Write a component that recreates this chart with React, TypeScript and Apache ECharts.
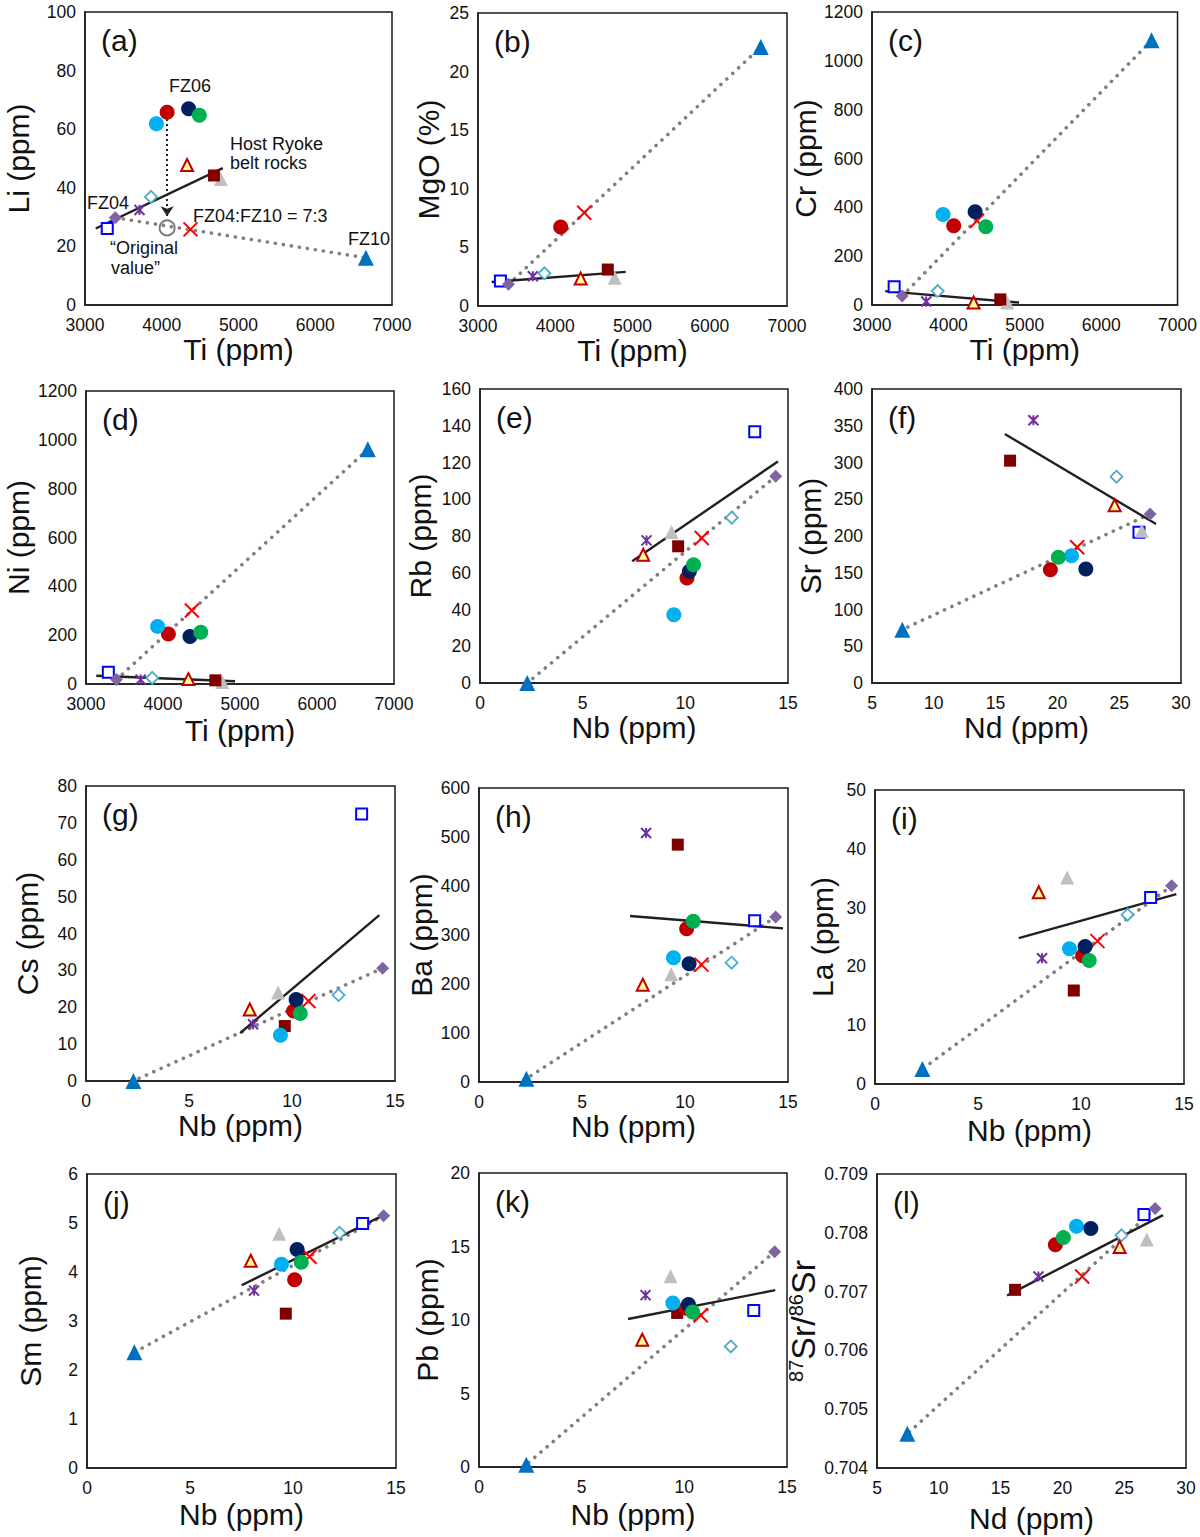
import React, { useEffect, useRef } from 'react';
import * as echarts from 'echarts';

const FONT = '"Liberation Sans", Arial, Helvetica, sans-serif';

// Sample order:
// 0 FZ04, 1 FZ10, 2 FZ04:FZ10 = 7:3 mixture,
// 3-6 FZ06 (red, light blue, navy, green circles),
// 7-12 host Ryoke belt rocks (open square, asterisk, open diamond, red/yellow triangle, dark red square, gray triangle)
const sampleNames = ['FZ04', 'FZ10', 'Mix 7:3', 'FZ06-r', 'FZ06-lb', 'FZ06-n', 'FZ06-g', 'Host-sq', 'Host-ast', 'Host-dia', 'Host-tri', 'Host-dsq', 'Host-gtri'];

const Ti = [3395, 6660, 4375, 4070, 3930, 4350, 4490, 3290, 3710, 3860, 4330, 4680, 4770];
const Nb = [14.4, 2.3, 10.8, 10.08, 9.44, 10.2, 10.4, 13.38, 8.11, 12.26, 7.95, 9.65, 9.33];
const Nd = [27.5, 7.45, 21.6, 19.43, 21.14, 22.3, 20.08, 26.6, 18.06, 24.78, 24.63, 16.17, 26.83];

const Li = [29.8, 16.1, 25.8, 65.8, 61.9, 67.0, 64.8, 26.1, 32.4, 36.9, 47.8, 44.2, 43.0];
const MgO = [1.85, 22.1, 7.95, 6.75, null, null, null, 2.14, 2.54, 2.79, 2.34, 3.11, 2.42];
const Cr = [37, 1084, 345, 325, 371, 382, 320, 75, 14, 57, 10, 23, 10];
const Ni = [18, 961, 301, 205, 236, 195, 212, 48, 18, 25, 20, 15, 8];
const Rb = [112.5, 0, 78.9, 57.1, 37.2, 60.8, 64.4, 136.8, 77.6, 90, 69.8, 74.4, 82.2];
const Sr = [229.9, 72.6, 184.6, 154.2, 173.2, 155.1, 171, 205, 357.4, 280.7, 241.7, 302.5, 207.3];
const Cs = [30.6, 0, 21.7, 19.0, 12.4, 22.1, 18.3, 72.4, 15.4, 23.3, 19.4, 14.9, 24.0];
const Ba = [336.7, 6.8, 239.5, 312.9, 253.7, 241.5, 327.9, 329.3, 508, 243.5, 198.6, 484.4, 219.7];
const La = [33.7, 2.55, 24.3, 21.8, 23.0, 23.4, 21.0, 31.7, 21.4, 28.8, 32.6, 15.9, 35.1];
const Sm = [5.15, 2.36, 4.31, 3.84, 4.16, 4.46, 4.20, 4.99, 3.62, 4.80, 4.23, 3.15, 4.78];
const Pb = [14.65, 0.16, 10.32, 10.8, 11.16, 11.05, 10.55, 10.64, 11.69, 8.2, 8.66, 10.48, 12.98];
const SrIso = [0.708413, 0.704581, 0.707257, 0.707798, 0.708112, 0.708072, 0.707918, 0.708311, 0.707257, 0.707958, 0.707759, 0.70703, 0.707884];

// Host-rock regression line end points [x, y]
const hostLi = [[3140, 26.1], [4795, 46.7]];
const hostMgO = [[3177, 2.05], [4912, 2.91]];
const hostCr = [[3173, 57], [4924, 10]];
const hostNi = [[3134, 34], [4935, 11]];
const hostRb = [[7.41, 66.2], [14.51, 120.6]];
const hostSr = [[15.75, 338.8], [27.98, 216.3]];
const hostCs = [[7.48, 13.0], [14.24, 45.0]];
const hostBa = [[7.33, 338.8], [14.76, 313.6]];
const hostLa = [[6.98, 24.8], [14.63, 32.3]];
const hostSm = [[7.51, 3.73], [14.4, 5.16]];
const hostPb = [[7.26, 10.07], [14.43, 12.03]];
const hostSrIso = [[15.52, 0.706933], [28.14, 0.7083]];

// "Original value" of FZ06 Li and arrow
const originalLi = [4070, 26.3];
const arrowLi = [[4070, 63.5], [4070, 30.3]];

const panels = [
  { id: 'a', x: Ti, y: Li, xName: 'Ti (ppm)', yName: 'Li (ppm)', xMin: 3000, xMax: 7000, xInt: 1000, yMin: 0, yMax: 100, yInt: 20, host: hostLi },
  { id: 'b', x: Ti, y: MgO, xName: 'Ti (ppm)', yName: 'MgO (%)', xMin: 3000, xMax: 7000, xInt: 1000, yMin: 0, yMax: 25, yInt: 5, host: hostMgO },
  { id: 'c', x: Ti, y: Cr, xName: 'Ti (ppm)', yName: 'Cr (ppm)', xMin: 3000, xMax: 7000, xInt: 1000, yMin: 0, yMax: 1200, yInt: 200, host: hostCr },
  { id: 'd', x: Ti, y: Ni, xName: 'Ti (ppm)', yName: 'Ni (ppm)', xMin: 3000, xMax: 7000, xInt: 1000, yMin: 0, yMax: 1200, yInt: 200, host: hostNi },
  { id: 'e', x: Nb, y: Rb, xName: 'Nb (ppm)', yName: 'Rb (ppm)', xMin: 0, xMax: 15, xInt: 5, yMin: 0, yMax: 160, yInt: 20, host: hostRb },
  { id: 'f', x: Nd, y: Sr, xName: 'Nd (ppm)', yName: 'Sr (ppm)', xMin: 5, xMax: 30, xInt: 5, yMin: 0, yMax: 400, yInt: 50, host: hostSr },
  { id: 'g', x: Nb, y: Cs, xName: 'Nb (ppm)', yName: 'Cs (ppm)', xMin: 0, xMax: 15, xInt: 5, yMin: 0, yMax: 80, yInt: 10, host: hostCs },
  { id: 'h', x: Nb, y: Ba, xName: 'Nb (ppm)', yName: 'Ba (ppm)', xMin: 0, xMax: 15, xInt: 5, yMin: 0, yMax: 600, yInt: 100, host: hostBa },
  { id: 'i', x: Nb, y: La, xName: 'Nb (ppm)', yName: 'La (ppm)', xMin: 0, xMax: 15, xInt: 5, yMin: 0, yMax: 50, yInt: 10, host: hostLa },
  { id: 'j', x: Nb, y: Sm, xName: 'Nb (ppm)', yName: 'Sm (ppm)', xMin: 0, xMax: 15, xInt: 5, yMin: 0, yMax: 6, yInt: 1, host: hostSm },
  { id: 'k', x: Nb, y: Pb, xName: 'Nb (ppm)', yName: 'Pb (ppm)', xMin: 0, xMax: 15, xInt: 5, yMin: 0, yMax: 20, yInt: 5, host: hostPb },
  { id: 'l', x: Nd, y: SrIso, xName: 'Nd (ppm)', yName: '{s|87}{n|Sr/}{s|86}{n|Sr}', xMin: 5, xMax: 30, xInt: 5, yMin: 0.704, yMax: 0.709, yInt: 0.001, host: hostSrIso, fmt: 3 },
];

// Layout (pixel boxes of each plot frame, and name gaps)
const layout = [
  { l: 85, t: 12, r: 392, b: 305, yGap: 52, xGap: 28 },
  { l: 478, t: 13, r: 787, b: 306, yGap: 35, xGap: 26 },
  { l: 872, t: 12, r: 1180, b: 305, yGap: 50, xGap: 25 },
  { l: 86, t: 391, r: 394, b: 684, yGap: 53, xGap: 31 },
  { l: 480, t: 389, r: 788, b: 683, yGap: 45, xGap: 28 },
  { l: 872, t: 389, r: 1181, b: 683, yGap: 47, xGap: 29 },
  { l: 86, t: 786, r: 395, b: 1081, yGap: 44, xGap: 27 },
  { l: 479, t: 788, r: 788, b: 1082, yGap: 39, xGap: 29 },
  { l: 875, t: 790, r: 1184, b: 1084, yGap: 38, xGap: 31 },
  { l: 87, t: 1174, r: 396, b: 1468, yGap: 42, xGap: 31 },
  { l: 479, t: 1173, r: 787, b: 1467, yGap: 37, xGap: 32 },
  { l: 877, t: 1174, r: 1186, b: 1468, yGap: 48, xGap: 35 },
];

const ASTERISK = 'path://M0,0L10,10M10,0L0,10M5,0L5,10';
const CROSS = 'path://M0,0L10,10M10,0L0,10';

// marker style per sample (same order as the sample arrays)
const styles = [
  { symbol: 'diamond', size: 13, item: { color: '#8064A2' }, z: 6 },
  { symbol: 'triangle', size: 16, item: { color: '#0070C0' }, z: 6 },
  { symbol: CROSS, size: 14, item: { color: 'none', borderColor: '#FF0000', borderWidth: 2 }, z: 4 },
  { symbol: 'circle', size: 15, item: { color: '#C00000' }, z: 5 },
  { symbol: 'circle', size: 15, item: { color: '#00B0F0' }, z: 5 },
  { symbol: 'circle', size: 15, item: { color: '#002060' }, z: 5 },
  { symbol: 'circle', size: 15, item: { color: '#00B050' }, z: 5 },
  { symbol: 'rect', size: 11, item: { color: '#ffffff', borderColor: '#0000FF', borderWidth: 2 }, z: 3 },
  { symbol: ASTERISK, size: 10, item: { color: 'none', borderColor: '#7030A0', borderWidth: 2 }, z: 3 },
  { symbol: 'diamond', size: 12, item: { color: '#ffffff', borderColor: '#4BACC6', borderWidth: 1.8 }, z: 3 },
  { symbol: 'triangle', size: 12, item: { color: '#FFFF99', borderColor: '#C00000', borderWidth: 2 }, z: 3 },
  { symbol: 'rect', size: 12, item: { color: '#800000' }, z: 3 },
  { symbol: 'triangle', size: 14, item: { color: '#BFBFBF' }, z: 3 },
];
const drawOrder = [7, 8, 9, 10, 12, 11, 2, 3, 4, 5, 6, 0, 1];

const annotations = [
  { text: 'FZ06', x: 190, y: 86, align: 'center' },
  { text: 'Host Ryoke', x: 230, y: 144, align: 'left' },
  { text: 'belt rocks', x: 230, y: 163, align: 'left' },
  { text: 'FZ04', x: 108, y: 203, align: 'center' },
  { text: 'FZ04:FZ10 = 7:3', x: 193, y: 216, align: 'left' },
  { text: 'FZ10', x: 369, y: 239, align: 'center' },
  { text: '\u201COriginal', x: 110, y: 248, align: 'left' },
  { text: 'value\u201D', x: 111, y: 268, align: 'left' },
];

function buildOption() {
  const grid: any[] = [];
  const xAxis: any[] = [];
  const yAxis: any[] = [];
  const series: any[] = [];
  const graphic: any[] = [];

  panels.forEach((p: any, i) => {
    const L = layout[i];
    grid.push({
      left: L.l, top: L.t, width: L.r - L.l, height: L.b - L.t,
      show: true, borderColor: '#1a1a1a', borderWidth: 1.5, backgroundColor: 'transparent',
    });
    xAxis.push({
      gridIndex: i, type: 'value', min: p.xMin, max: p.xMax, interval: p.xInt,
      axisLine: { show: true, onZero: false, lineStyle: { color: '#1a1a1a', width: 1.5 } },
      axisTick: { show: false }, splitLine: { show: false },
      axisLabel: { fontSize: 17.5, color: '#111', margin: 11, fontFamily: FONT, formatter: (v: number) => String(v) },
      name: p.xName, nameLocation: 'middle', nameGap: L.xGap,
      nameTextStyle: { fontSize: 30, color: '#111', fontFamily: FONT },
    });
    const yLabel: any = {
      fontSize: 17.5, color: '#111', margin: 9, fontFamily: FONT,
      formatter: (v: number) => (p.fmt ? v.toFixed(p.fmt) : String(v)),
    };
    yAxis.push({
      gridIndex: i, type: 'value', min: p.yMin, max: p.yMax, interval: p.yInt,
      axisLine: { show: true, onZero: false, lineStyle: { color: '#1a1a1a', width: 1.5 } },
      axisTick: { show: false }, splitLine: { show: false },
      axisLabel: yLabel,
      name: p.yName, nameLocation: 'middle', nameGap: L.yGap,
      nameTextStyle: {
        fontSize: 30, color: '#111', fontFamily: FONT,
        rich: {
          n: { fontSize: 34, lineHeight: 34, color: '#111', fontFamily: FONT },
          s: { fontSize: 20, lineHeight: 20, verticalAlign: 'top', color: '#111', fontFamily: FONT },
        },
      },
    });
    // mixing line FZ04 - FZ10
    series.push({
      type: 'line', xAxisIndex: i, yAxisIndex: i, silent: true, symbol: 'none', z: 1,
      data: [[p.x[0], p.y[0]], [p.x[1], p.y[1]]],
      lineStyle: { color: '#808080', width: 3.6, type: [0.1, 8], cap: 'round' },
    });
    // host rock regression
    series.push({
      type: 'line', xAxisIndex: i, yAxisIndex: i, silent: true, symbol: 'none', z: 2,
      data: p.host,
      lineStyle: { color: '#231F20', width: 2.4 },
    });
    drawOrder.forEach((s) => {
      const v = p.y[s];
      if (v == null) return;
      const st = styles[s];
      series.push({
        type: 'scatter', name: sampleNames[s], xAxisIndex: i, yAxisIndex: i,
        data: [[p.x[s], v]], symbol: st.symbol, symbolSize: st.size,
        itemStyle: { ...st.item, opacity: 1 }, z: st.z, silent: true,
      });
    });
    graphic.push({
      type: 'text', x: L.l + 16, y: L.t + 28,
      style: { text: `(${p.id})`, font: `30px ${FONT}`, fill: '#111', verticalAlign: 'middle', align: 'left' },
    });
  });

  // panel (a) extras: original value circle and arrow
  series.push({
    type: 'scatter', xAxisIndex: 0, yAxisIndex: 0, data: [originalLi], symbol: 'circle', symbolSize: 15,
    itemStyle: { color: 'none', borderColor: '#595959', borderWidth: 2 }, z: 4, silent: true,
  });
  series.push({
    type: 'lines', coordinateSystem: 'cartesian2d', xAxisIndex: 0, yAxisIndex: 0, silent: true, z: 4,
    data: [{ coords: arrowLi }],
    symbol: ['none', 'arrow'], symbolSize: 10,
    lineStyle: { color: '#222', width: 2, type: [2, 3], opacity: 1 },
  });

  annotations.forEach((a) => {
    graphic.push({
      type: 'text', x: a.x, y: a.y,
      style: { text: a.text, font: `18px ${FONT}`, fill: '#111', align: a.align, verticalAlign: 'middle' },
    });
  });

  return {
    animation: false,
    backgroundColor: '#ffffff',
    textStyle: { fontFamily: FONT },
    grid, xAxis, yAxis, series, graphic,
  };
}

export default function App() {
  const ref = useRef<HTMLDivElement>(null);
  useEffect(() => {
    const chart = echarts.init(ref.current as HTMLDivElement, null, { renderer: 'svg' });
    chart.setOption(buildOption() as any);
    return () => chart.dispose();
  }, []);
  return (
    <div
      ref={ref}
      style={{ position: 'absolute', left: 0, top: 0, width: 1200, height: 1537, background: '#fff' }}
    />
  );
}
